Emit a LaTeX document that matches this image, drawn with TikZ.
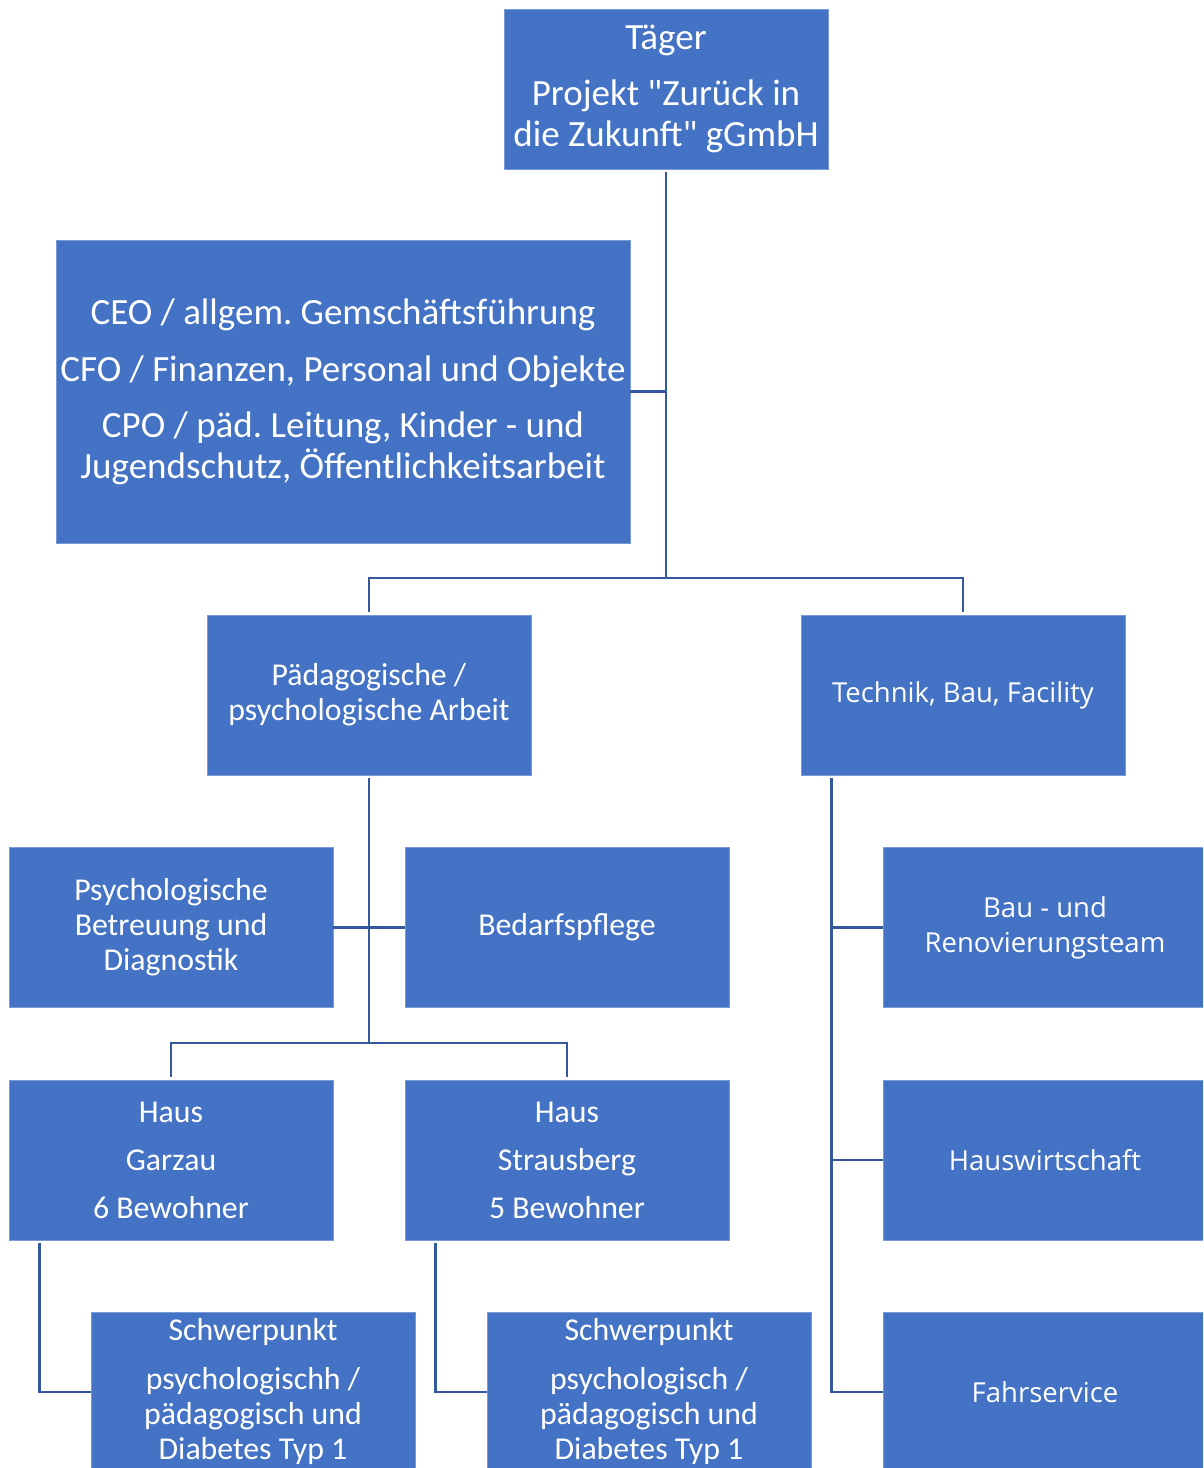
\documentclass[tikz,border=0pt]{standalone}
\usepackage{fontspec}
\setmainfont{Carlito}
\newfontfamily\widefont{Open Sans}
\usepackage{tikz}
\definecolor{boxblue}{RGB}{68,114,196}
\definecolor{boxedge}{RGB}{120,155,215}
\definecolor{linkblue}{RGB}{52,88,156}
\frenchspacing

\newcommand{\bigtxt}{\fontsize{37}{41}\selectfont}
\newcommand{\midtxt}{\fontsize{31.8}{35}\selectfont}
\newcommand{\widetxt}{\widefont\fontsize{27.5}{35}\selectfont}

\begin{document}
\begin{tikzpicture}[x=1pt, y=-1pt,
    orgbox/.style={draw=boxedge, line width=0.8pt, fill=boxblue, text=white, inner sep=0pt,
      minimum width=324pt, minimum height=160pt, align=center, font=\midtxt},
    link/.style={draw=linkblue, line width=2.8pt}]
    \useasboundingbox (0, 0) rectangle (1203, 1468);
    \clip (0, 0) rectangle (1203, 1468);

    % top level
    \node[orgbox, font=\bigtxt] (traeger) at (666, 89) {T\"ager\\[15pt]Projekt \textquotedbl Zur\"uck in\\die Zukunft\textquotedbl{} gGmbH};
    \node[orgbox, font=\bigtxt, minimum width=574pt, minimum height=303pt] (chef) at (343, 391.5)
      {CEO / allgem. Gemsch\"aftsf\"uhrung\\[16pt]CFO / Finanzen, Personal und Objekte\\[15pt]CPO / p\"ad. Leitung, Kinder - und\\Jugendschutz, \"Offentlichkeitsarbeit};

    % second level
    \node[orgbox] (paed) at (369, 695) {P\"adagogische /\\psychologische Arbeit};
    \node[orgbox, font=\widetxt] (technik) at (963, 695) {Technik, Bau, Facility};

    % left branch
    \node[orgbox] (psych) at (171, 927.5) {Psychologische\\Betreuung und\\Diagnostik};
    \node[orgbox] (bedarf) at (567, 927.5) {Bedarfspflege};
    \node[orgbox] (garzau) at (171, 1160) {Haus\\[13pt]Garzau\\[13pt]6 Bewohner};
    \node[orgbox] (strausberg) at (567, 1160) {Haus\\[13pt]Strausberg\\[13pt]5 Bewohner};
    \node[orgbox] (schwerA) at (253, 1392) {Schwerpunkt\\[14pt]psychologischh /\\p\"adagogisch und\\Diabetes Typ 1};
    \node[orgbox] (schwerB) at (649, 1392) {Schwerpunkt\\[14pt]psychologisch /\\p\"adagogisch und\\Diabetes Typ 1};

    % right branch
    \node[orgbox, font=\widetxt] (bau) at (1045, 927.5) {Bau - und\\Renovierungsteam};
    \node[orgbox, font=\widetxt] (hauswirt) at (1045, 1160) {Hauswirtschaft};
    \node[orgbox, font=\widetxt] (fahr) at (1045, 1392) {Fahrservice};

    % joints
    \coordinate (topjoint) at (666, 578);
    \coordinate (paedjoint) at (369, 1043);
    \coordinate (techrail) at ([xshift=31pt, yshift=-3pt]technik.south west);
    \coordinate (garzaurail) at ([xshift=31pt, yshift=-3pt]garzau.south west);
    \coordinate (strausrail) at ([xshift=31pt, yshift=-3pt]strausberg.south west);

    \draw[link] ([yshift=-3pt]traeger.south) -- (topjoint);
    \draw[link] (chef.east) -- (chef.east -| topjoint);
    \draw[link] ([yshift=3pt]paed.north) |- (topjoint) -| ([yshift=3pt]technik.north);

    \draw[link] ([yshift=-3pt]paed.south) -- (paedjoint);
    \draw[link] (psych.east) -- (bedarf.west);
    \draw[link] ([yshift=3pt]garzau.north) |- (paedjoint) -| ([yshift=3pt]strausberg.north);
    \draw[link] (garzaurail) |- (schwerA.west);
    \draw[link] (strausrail) |- (schwerB.west);

    \draw[link] (techrail) |- (fahr.west);
    \draw[link] (bau.west) -- (bau.west -| techrail);
    \draw[link] (hauswirt.west) -- (hauswirt.west -| techrail);
  \end{tikzpicture}
\end{document}
